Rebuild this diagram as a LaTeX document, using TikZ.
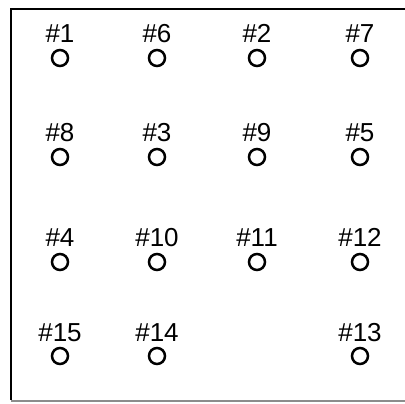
\documentclass[tikz,border=0pt]{standalone}
\usepackage{fontspec}
\setmainfont{Liberation Sans}
\begin{document}
\begin{tikzpicture}[x=1pt,y=-1pt,
  hole/.style={circle,draw=black,line width=2.5pt,minimum size=16pt,inner sep=0pt},
  lab/.style={anchor=base,inner sep=0pt,font=\fontsize{26}{26}\selectfont}]
\useasboundingbox (0,0) rectangle (405,404);
\draw[line width=2.2pt] (405,9) -- (11,9) -- (11,400);
\draw[line width=1.5pt,black!45] (11,401) -- (405,401);
\foreach \n/\x/\y in {1/60/58,6/157/58,2/257/58,7/360/58,
                      8/60/157,3/157/157,9/257/157,5/360/157,
                      4/60/262,10/157/262,11/257/262,12/360/262,
                      15/60/356,14/157/356,13/360/356}{
  \node[hole] (c\n) at (\x,\y) {};
  \node[lab] (l\n) at (\x,\y-15) {\#\n};
}
\end{tikzpicture}
\end{document}
